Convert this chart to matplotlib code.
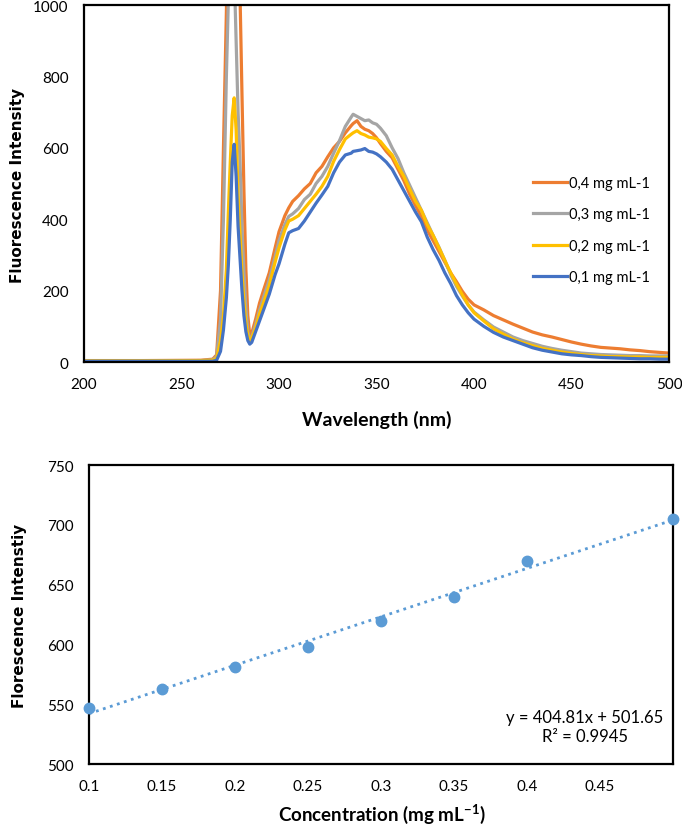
# ============================================================
# Fluorescence spectra + calibration line (two stacked panels)
# ============================================================

import numpy as np
import matplotlib.pyplot as plt

# -----------------------------
# 1. Data
# -----------------------------

# Emission spectra: common wavelength grid (nm)
wavelength = [200, 230, 260, 266, 268, 270, 271.5, 273, 274, 275, 276, 277, 278, 279, 280,
              281, 282, 283, 284, 285, 286, 288, 290, 292, 295, 298, 300, 303, 305, 307,
              310, 313, 316, 319, 322, 325, 328, 331, 334, 337, 338, 340, 342, 344, 346,
              348, 350, 352, 355, 358, 361, 364, 367, 370, 373, 376, 379, 382, 385, 388,
              391, 394, 397, 400, 405, 410, 415, 420, 425, 430, 435, 440, 445, 450, 455,
              460, 465, 470, 475, 480, 485, 490, 495, 500]

int_04 = [4, 4, 5, 8, 20, 200, 600, 980, 1300, 1500, 1550, 1500, 1400, 1200, 1030,
          750, 480, 260, 130, 75, 80, 120, 165, 200, 250, 320, 365, 410, 432, 450,
          466, 485, 500, 530, 548, 575, 600, 618, 642, 662, 668, 676, 660, 652, 648,
          640, 628, 612, 590, 572, 540, 508, 470, 438, 408, 370, 340, 310, 280, 250,
          225, 198, 176, 160, 146, 130, 118, 106, 95, 84, 76, 70, 63, 56, 50,
          45, 41, 39, 37, 34, 32, 29, 27, 25]

int_03 = [3, 3, 4, 6, 15, 120, 400, 800, 1010, 1150, 1200, 1100, 900, 700, 560,
          380, 250, 150, 85, 62, 70, 105, 145, 180, 230, 295, 340, 385, 408, 415,
          430, 455, 470, 500, 520, 548, 585, 620, 660, 686, 694, 688, 682, 676, 678,
          670, 666, 655, 634, 600, 570, 530, 495, 460, 425, 390, 355, 322, 285, 245,
          212, 185, 160, 140, 118, 98, 84, 70, 60, 52, 44, 38, 33, 29, 25,
          23, 21, 20, 19, 18, 18, 17, 17, 17]

int_02 = [3, 3, 4, 5, 10, 60, 130, 260, 420, 560, 690, 740, 650, 470, 360,
          250, 170, 110, 75, 60, 68, 95, 135, 165, 215, 280, 320, 370, 395, 400,
          410, 430, 450, 470, 492, 520, 562, 595, 625, 638, 642, 648, 640, 636, 630,
          628, 625, 618, 598, 580, 548, 520, 484, 450, 425, 385, 355, 320, 285, 250,
          218, 188, 160, 138, 115, 93, 78, 64, 54, 46, 38, 33, 28, 24, 21,
          18, 17, 15, 15, 14, 14, 13, 13, 13]

int_01 = [2, 2, 2, 2, 5, 30, 90, 180, 270, 400, 560, 610, 520, 380, 290,
          200, 130, 85, 60, 50, 55, 85, 115, 145, 190, 245, 275, 330, 362, 368,
          374, 395, 420, 445, 468, 492, 530, 560, 580, 585, 590, 592, 594, 598, 590,
          588, 583, 575, 560, 540, 510, 480, 450, 420, 393, 350, 315, 285, 250, 220,
          186, 160, 138, 120, 100, 83, 70, 60, 50, 40, 33, 28, 23, 20, 18,
          15, 13, 12, 11, 10, 9, 9, 8, 8]

series_labels = ["0,4 mg mL-1", "0,3 mg mL-1", "0,2 mg mL-1", "0,1 mg mL-1"]
series_colors = ["#ED7D31", "#A5A5A5", "#FFC000", "#4472C4"]

# Calibration points
concentration = [0.1, 0.15, 0.2, 0.25, 0.3, 0.35, 0.4, 0.5]
peak_intensity = [547, 563, 581, 598, 620, 640, 670, 705]

fit_slope = 404.81
fit_intercept = 501.65
fit_r2 = 0.9945

top_xticks = [200, 250, 300, 350, 400, 450, 500]
top_yticks = [0, 200, 400, 600, 800, 1000]
bot_xticks = [0.1, 0.15, 0.2, 0.25, 0.3, 0.35, 0.4, 0.45]
bot_yticks = [500, 550, 600, 650, 700, 750]

# -----------------------------
# 2. Figure setup
# -----------------------------
plt.rcParams["font.family"] = ["Lato", "DejaVu Sans"]

fig = plt.figure(figsize=(6.82, 8.37), dpi=100)
ax1 = fig.add_axes([0.1232, 0.5663, 0.8578, 0.4265])
ax2 = fig.add_axes([0.1305, 0.0860, 0.8563, 0.3572])

for ax in (ax1, ax2):
    for side in ax.spines:
        ax.spines[side].set_linewidth(1.6)
        ax.spines[side].set_color("black")
    ax.tick_params(length=0, labelsize=11, pad=11)

# -----------------------------
# 3. Top panel: spectra
# -----------------------------
spectra = [int_04, int_03, int_02, int_01]
for values, label, color in zip(spectra, series_labels, series_colors):
    ax1.plot(wavelength, values, color=color, linewidth=2.3, label=label)

ax1.set_xlim(200, 500)
ax1.set_ylim(0, 1000)
ax1.set_xticks(top_xticks)
ax1.set_yticks(top_yticks)

ax1.legend(loc="center left", bbox_to_anchor=(0.745, 0.37), frameon=False,
           fontsize=10.5, handlelength=2.3, handletextpad=0.15, labelspacing=1.2)

fig.text(0.025, 0.779, "Fluorescence Intensity", rotation=90, ha="center", va="center",
         fontsize=11, fontweight="bold", family="DejaVu Sans")
fig.text(0.552, 0.498, "Wavelength (nm)", ha="center", va="center",
         fontsize=14, fontweight="bold")

# -----------------------------
# 4. Bottom panel: calibration
# -----------------------------
fit_x = np.array([concentration[0], concentration[-1]])
fit_y = fit_slope * fit_x + fit_intercept
ax2.plot(fit_x, fit_y, linestyle=":", color="#5B9BD5", linewidth=2)
ax2.plot(concentration, peak_intensity, "o", color="#5B9BD5", markersize=7.5,
         clip_on=False, zorder=3)

ax2.set_xlim(0.1, 0.5)
ax2.set_ylim(500, 750)
ax2.set_xticks(bot_xticks)
ax2.set_xticklabels([f"{v:g}" for v in bot_xticks])
ax2.set_yticks(bot_yticks)

ax2.text(0.849, 0.125, f"y = {fit_slope}x + {fit_intercept}\nR² = {fit_r2}",
         transform=ax2.transAxes, ha="center", va="center", multialignment="center",
         fontsize=12, linespacing=1.2)

fig.text(0.029, 0.264, "Florescence Intenstiy", rotation=90, ha="center", va="center",
         fontsize=11, fontweight="bold", family="DejaVu Sans")
fig.text(0.560, 0.0275, "Concentration (mg mL$^{\\mathregular{-1}}$)", ha="center", va="center",
         fontsize=13.5, fontweight="bold")

plt.savefig("out.png", dpi=100)
